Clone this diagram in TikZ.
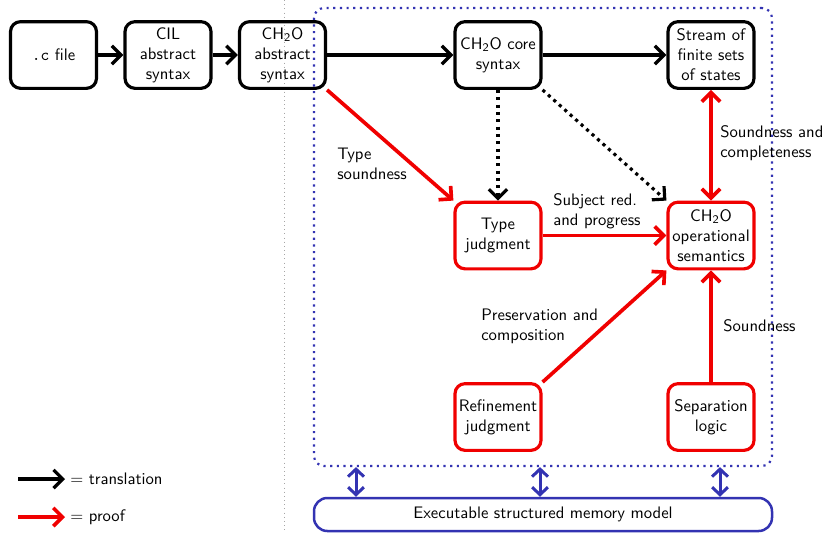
\documentclass[tikz,border=0pt]{standalone}
\usetikzlibrary{arrows.meta}
\renewcommand{\familydefault}{\sfdefault}
\definecolor{mblue}{RGB}{51,51,178}
\definecolor{pred}{RGB}{240,0,0}
\newcommand{\chto}{CH\textsubscript{2}O}
\begin{document}
\begin{tikzpicture}[x=0.6pt,y=-0.6pt,
  font=\sffamily,
  box/.style={draw, line width=1.9pt, rounded corners=6pt,
    minimum width=51.6pt, minimum height=40pt, inner sep=1pt,
    align=center},
  tbox/.style={box, draw=black},
  pbox/.style={box, draw=pred},
  barbtip/.tip={Straight Barb[length=5.5pt,width=11pt]},
  trans/.style={line width=2pt, -barbtip},
  maybe/.style={line width=1.9pt, -barbtip, dash pattern=on 1.9pt off 2.5pt},
  proof/.style={line width=2.2pt, pred, -barbtip},
  proofboth/.style={line width=2.2pt, pred, barbtip-barbtip},
  membar/.style={line width=1.8pt, mblue,
    {Straight Barb[length=4.5pt,width=9.5pt]}-{Straight Barb[length=4.5pt,width=9.5pt]}},
  lab/.style={anchor=west, align=left, inner sep=0pt},
]
\useasboundingbox (0,0) rectangle (829,533);

% divider between legend/front end and the verified part
\draw[gray!70, line width=0.5pt, dash pattern=on 0.5pt off 2pt] (284,0) -- (284,533);

% region of the formalised development
\node[draw=mblue, line width=1.3pt, dash pattern=on 1.3pt off 2.7pt,
  rounded corners=6pt, minimum width=274.8pt, minimum height=274.8pt,
  inner sep=0pt] (frame) at (543,237) {};

% front end
\node[tbox] (cfile) at (53.5,55) {{\ttfamily .c} file};
\node[tbox] (cil) at (168,55) {CIL\\abstract\\syntax};
\node[tbox] (abs) at (282.5,55) {\chto\\abstract\\syntax};
\node[tbox] (core) at (498,55) {\chto{} core\\syntax};
\node[tbox] (stream) at (711,55) {Stream of\\finite sets\\of states};

% judgments and semantics
\node[pbox] (tj) at (498,235.5) {Type\\judgment};
\node[pbox] (op) at (711,235.5) {\chto\\operational\\semantics};
\node[pbox] (ref) at (498,417) {Refinement\\judgment};
\node[pbox] (sep) at (711,417) {Separation\\logic};

% memory model
\node[draw=mblue, line width=1.5pt, rounded corners=8pt,
  minimum width=274.8pt, minimum height=19.8pt, inner sep=0pt]
  (mem) at (543,514.5) {Executable structured memory model};

% translations
\draw[trans] (cfile) -- (cil);
\draw[trans] (cil) -- (abs);
\draw[trans] (abs) -- (core);
\draw[trans] (core) -- (stream);
\draw[maybe] (core) -- (tj);
\draw[maybe] (core.south east) -- (op.north west);

% proofs
\draw[proof] (abs.south east) -- (tj.north west);
\draw[proof] (tj) -- (op);
\draw[proof] (ref.north east) -- (op.south west);
\draw[proof] (sep) -- (op);
\draw[proofboth] (stream) -- (op);

% labels of the proofs
\node[lab] (l1) at (337,164) {Type\\soundness};
\node[lab] (l2) at (553,211.5) {Subject red.\\and progress};
\node[lab] (l3) at (720,143.5) {Soundness and\\completeness};
\node[lab] (l4) at (481,326.5) {Preservation and\\composition};
\node[lab] (l5) at (723,326) {Soundness};

% links to the memory model
\draw[membar] (frame.south -| 356,0) -- (mem.north -| 356,0);
\draw[membar] (frame.south -| 540,0) -- (mem.north -| 540,0);
\draw[membar] (frame.south -| 720,0) -- (mem.north -| 720,0);

% legend
\coordinate (k1a) at (18,479);
\coordinate (k1b) at (65,479);
\coordinate (k2a) at (18,517);
\coordinate (k2b) at (65,517);
\draw[trans] (k1a) -- (k1b);
\draw[proof] (k2a) -- (k2b);
\node[lab] (k1) at (70,479) {$=$ translation};
\node[lab] (k2) at (70,517) {$=$ proof};
\end{tikzpicture}
\end{document}
